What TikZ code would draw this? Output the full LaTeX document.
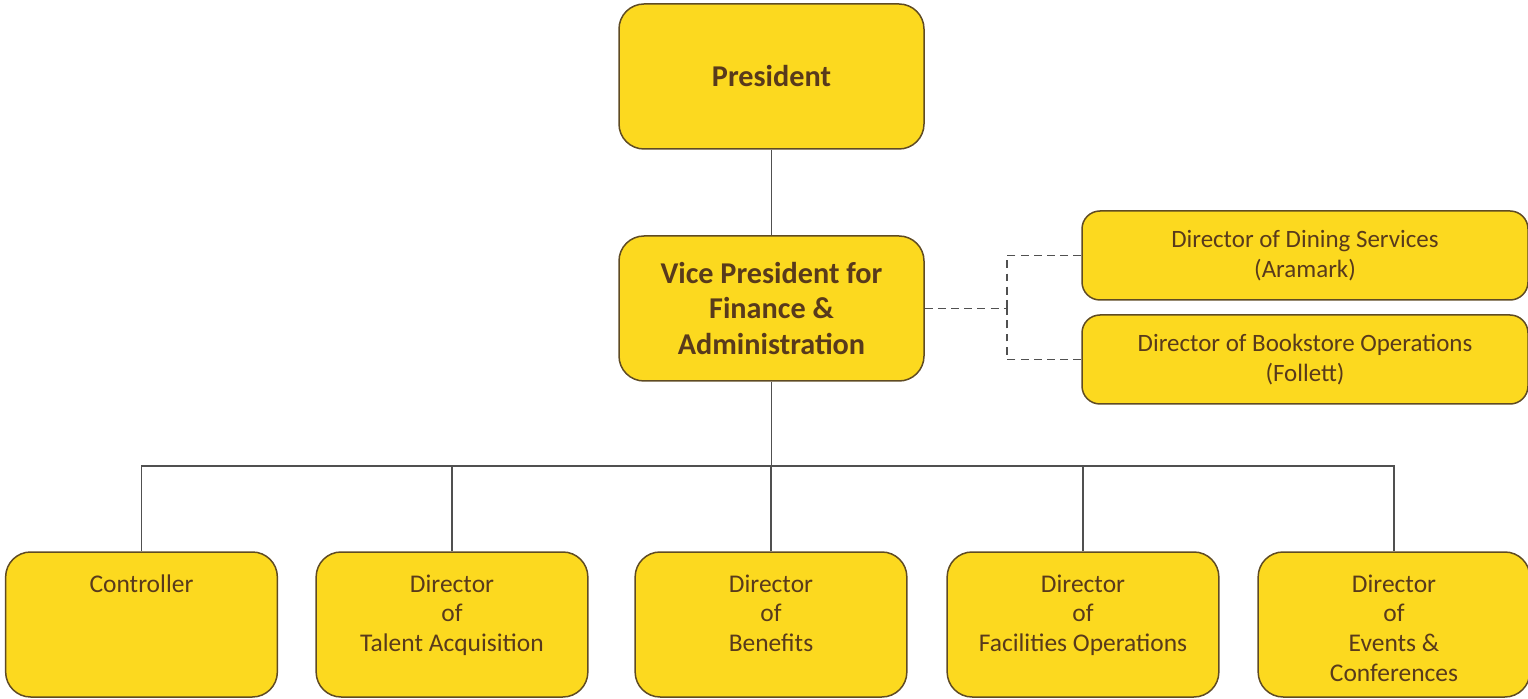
\documentclass[tikz,border=0pt]{standalone}
\usepackage{fontspec}
\setmainfont{Carlito}
\usetikzlibrary{calc}
\definecolor{boxfill}{RGB}{252,217,31}
\definecolor{boxedge}{RGB}{95,75,35}
\definecolor{boxtext}{RGB}{88,58,28}
\definecolor{wirecol}{RGB}{80,80,80}
\newcommand{\toptext}[1]{\parbox[c][2.0cm][t]{5.2cm}{\centering #1}}
\tikzset{
	box/.style={draw=boxedge, line width=0.3mm, fill=boxfill, text=boxtext, rounded corners=0.5cm, align=center},
	headbox/.style={box, minimum width=6.1cm, minimum height=2.9cm, font=\fontsize{17.2}{20}\selectfont\bfseries},
	sidebox/.style={box, rounded corners=0.36cm, minimum width=8.92cm, minimum height=1.78cm, font=\fontsize{14.2}{17}\selectfont},
	unitbox/.style={box, minimum width=5.32cm, minimum height=2.9cm, font=\fontsize{14.5}{17}\selectfont},
	wire/.style={draw=wirecol, line width=0.3mm},
	dotwire/.style={wire, dash pattern=on 4.5pt off 3pt}
}
\begin{document}
\begin{tikzpicture}
			%%%%% START %%%%%
			
			\useasboundingbox (0, 0) rectangle (30.56, -13.98);
			
			\node[headbox] (pres) at (15.43, -1.53) {President};
			\node[headbox] (vp) at (15.43, -6.17) {Vice President for\\Finance \&\\Administration};
			
			\node[sidebox] (dining) at (26.1, -5.11) {Director of Dining Services\\(Aramark)};
			\node[sidebox] (books) at (26.1, -7.19) {Director of Bookstore Operations\\(Follett)};
			
			\node[unitbox] (ctrl) at (2.83, -12.49) {\toptext{Controller}};
			\node[unitbox] (talent) at (9.04, -12.49) {\toptext{Director\\of\\Talent Acquisition}};
			\node[unitbox] (benefits) at (15.42, -12.49) {\toptext{Director\\of\\Benefits}};
			\node[unitbox] (facil) at (21.66, -12.49) {\toptext{Director\\of\\Facilities Operations}};
			\node[unitbox] (events) at (27.88, -12.49) {\toptext{Director\\of\\Events \&\\Conferences}};
			
			\coordinate (bus) at (15.43, -9.32);
			\coordinate (split) at (20.14, -6.17);
			
			\draw[wire] (pres) -- (vp);
			\draw[wire] (vp.south) -- (bus);
			\draw[wire] (ctrl.north) -- (ctrl.north |- bus) -- (events.north |- bus) -- (events.north);
			\draw[wire] (talent.north) -- (talent.north |- bus);
			\draw[wire] (benefits.north) -- (benefits.north |- bus);
			\draw[wire] (facil.north) -- (facil.north |- bus);
			
			\draw[dotwire] (vp.east) -- (split);
			\draw[dotwire] (dining.west) -| (split);
			\draw[dotwire] (books.west) -| (split);
			
			%%%%% END %%%%%
\end{tikzpicture}
\end{document}
